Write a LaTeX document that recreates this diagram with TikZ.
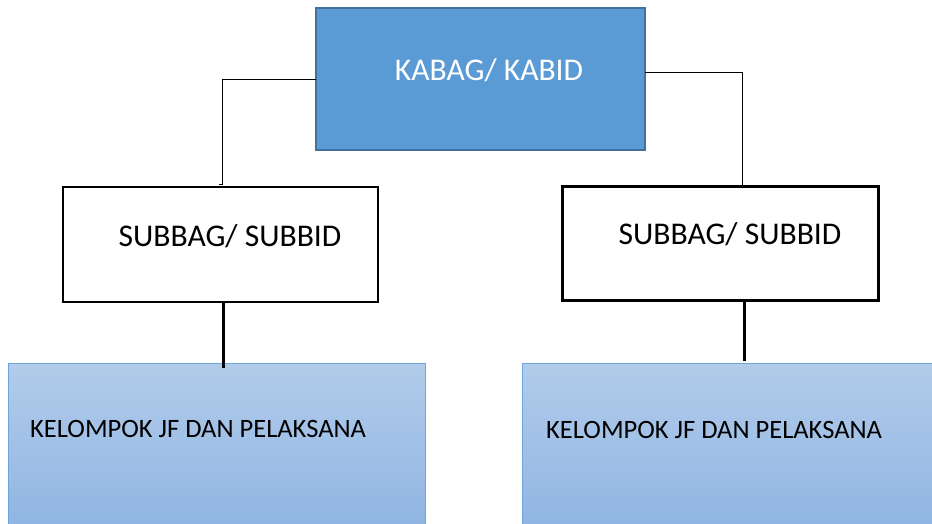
\documentclass[tikz,border=0pt]{standalone}
\usepackage{fontspec}
\setmainfont{Carlito}
\usetikzlibrary{calc}
\definecolor{kabagfill}{HTML}{5B9BD5}
\definecolor{kabagline}{HTML}{41719C}
\definecolor{jftop}{HTML}{B2CCEA}
\definecolor{jfbottom}{HTML}{8DB3E2}
\definecolor{jfline}{HTML}{6FA3DB}
\tikzset{
	unitbox/.style={draw, rectangle, inner sep=0pt, outer sep=0pt},
	boxtext/.style={inner sep=0pt, font=\fontsize{31.6}{36}\selectfont},
	jftext/.style={inner sep=0pt, anchor=west, font=\fontsize{26.5}{30}\selectfont}
}

\begin{document}
\begin{tikzpicture}[x=1pt, y=-1pt]
			%%%%% START %%%%%
			\useasboundingbox (0, 0) rectangle (932, 523);
			\clip (0, 0) rectangle (932, 523);
			
			\node[unitbox, fill=kabagfill, draw=kabagline, line width=1.5pt, minimum width=329pt, minimum height=142pt] (kabag) at (480.5, 79) {};
			\node[boxtext, text=white] (kabagtxt) at (489, 70) {KABAG/ KABID};
			
			\node[unitbox, fill=white, line width=2pt, minimum width=315pt, minimum height=115pt] (subkiri) at (220.5, 244.5) {};
			\node[boxtext] (subkiritxt) at (230, 236) {SUBBAG/ SUBBID};
			
			\node[unitbox, fill=white, line width=3pt, minimum width=316pt, minimum height=114pt] (subkanan) at (720, 243) {};
			\node[boxtext] (subkanantxt) at (730, 234) {SUBBAG/ SUBBID};
			
			\node[unitbox, draw=jfline, line width=1pt, top color=jftop, bottom color=jfbottom, minimum width=417pt, minimum height=177pt] (jfkiri) at (216.5, 451.5) {};
			\node[jftext] (jfkiritxt) at (30, 429) {KELOMPOK JF DAN PELAKSANA};
			
			\node[unitbox, draw=jfline, line width=1pt, top color=jftop, bottom color=jfbottom, minimum width=438pt, minimum height=177pt] (jfkanan) at (741, 451.5) {};
			\node[jftext] (jfkanantxt) at (546, 430) {KELOMPOK JF DAN PELAKSANA};
			
			% garis dari kabag
			\coordinate (ujungkiri) at (222, 184);
			\coordinate (ujungkanan) at (742, 185);
			\draw[line width=1pt] (kabag.west) -| (ujungkiri) -- ++(-3, 0);
			\draw[line width=1pt] ($(kabag.east)+(0, -7)$) -| (ujungkanan);
			
			% garis ke kelompok jf
			\coordinate (bawahkiri) at (223, 368);
			\coordinate (bawahkanan) at (744, 361);
			\draw[line width=3pt] (subkiri.south -| bawahkiri) -- (bawahkiri);
			\draw[line width=3pt] (subkanan.south -| bawahkanan) -- (bawahkanan);
			%%%%% END %%%%%
\end{tikzpicture}
\end{document}
